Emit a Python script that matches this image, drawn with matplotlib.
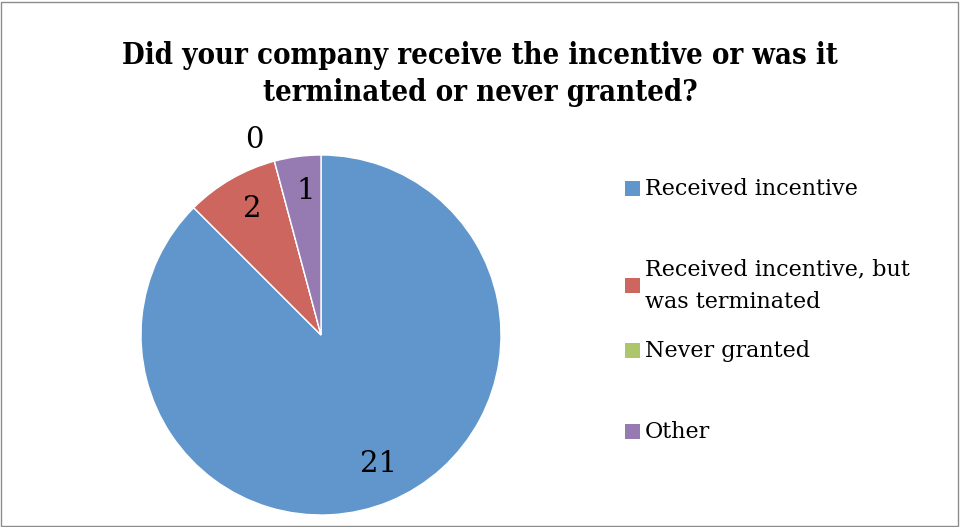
import numpy as np
import matplotlib
matplotlib.use("Agg")
import matplotlib.pyplot as plt
from matplotlib.patches import Rectangle

categories = ["Received incentive", "Received incentive, but\nwas terminated", "Never granted", "Other"]
values = [21, 2, 0, 1]
colors = ["#6096CB", "#CD665E", "#ADC56B", "#957BB2"]
title = "Did your company receive the incentive or was it\nterminated or never granted?"

plt.rcParams['font.family'] = ['DejaVu Serif']

W, H = 960, 527
fig = plt.figure(figsize=(W/100, H/100), dpi=100)

# frame
fig.patches.append(Rectangle((1/W, 1/H), (W-3)/W, (H-3)/H, transform=fig.transFigure,
                             fill=False, edgecolor="#8c8c8c", linewidth=1.0))

cx, cy, r = 321, 335, 180
ax = fig.add_axes([(cx-r)/W, (H-cy-r)/H, 2*r/W, 2*r/H])
wedges, _ = ax.pie(values, colors=colors, startangle=90, counterclock=False,
                   radius=1.0, wedgeprops=dict(edgecolor="white", linewidth=1.0))
ax.set_xlim(-1, 1)
ax.set_ylim(-1, 1)
ax.set_aspect('equal')
ax.axis('off')

for w, v in zip(wedges, values):
    ang = np.deg2rad((w.theta1 + w.theta2) / 2)
    if v > 0:
        ax.annotate(str(v), (0.79*np.cos(ang), 0.79*np.sin(ang)), xytext=(2, 2),
                    textcoords='offset points', ha='center', va='center',
                    fontsize=21, color='black', annotation_clip=False)
    else:
        ax.annotate(str(v), (1.1*np.cos(ang), 1.1*np.sin(ang)), xytext=(-11, 3),
                    textcoords='offset points', ha='center', va='center',
                    fontsize=21, color='black', annotation_clip=False)

fig.text(480/W, 1 - 74/H, title, ha='center', va='center', fontsize=21,
         fontweight='bold', fontstretch='condensed', linespacing=1.35)

leg_y = [189, 285.5, 351, 432]
for cat, col, y in zip(categories, colors, leg_y):
    fig.patches.append(Rectangle((625/W, 1 - (y+7)/H), 15/W, 15/H, transform=fig.transFigure,
                                 facecolor=col, edgecolor='none'))
    fig.text(645/W, 1 - y/H, cat, ha='left', va='center', fontsize=16, linespacing=1.6)

fig.savefig("out.png", dpi=100)
